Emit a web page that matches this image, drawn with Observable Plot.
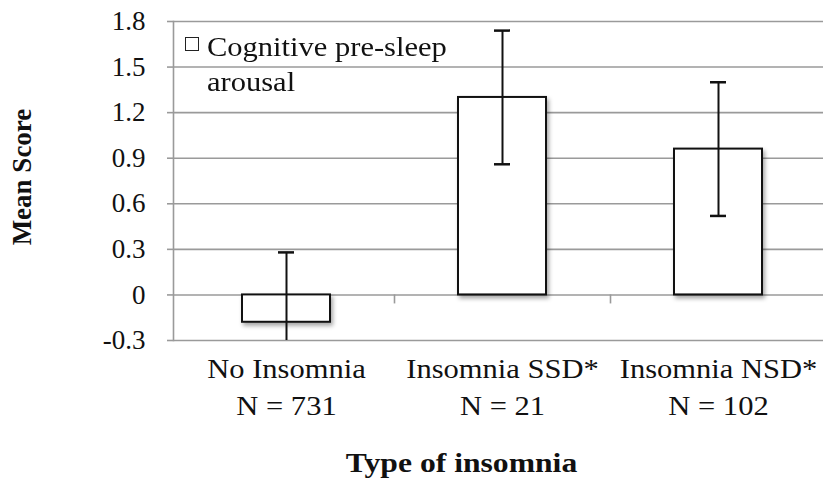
<!DOCTYPE html>
<html>
<head>
<meta charset="utf-8">
<script src="https://cdn.jsdelivr.net/npm/d3@7"></script>
<script src="https://cdn.jsdelivr.net/npm/@observablehq/plot@0.6"></script>
<style>
  html, body { margin: 0; padding: 0; background: #fff; }
  #wrap { position: relative; width: 823px; height: 480px; }
  #legend { position: absolute; left: 185px; top: 30px; font-size: 27px; line-height: 35px; color: #111; }
  #legend .sw { position: absolute; left: 0; top: 7px; width: 12px; height: 12px; border: 1.6px solid #222; background: #fff; }
  #legend .txt { position: absolute; left: 22px; top: 0; white-space: nowrap; transform: scaleX(1.13); transform-origin: 0 0; }
  g[aria-label="bar"] rect { filter: drop-shadow(2px 3px 2px rgba(0,0,0,0.35)); }
</style>
</head>
<body>
<div id="wrap"><div id="legend"><div class="sw"></div><div class="txt" id="legendText"></div></div></div>
<script>
const categories = ["No Insomnia", "Insomnia SSD*", "Insomnia NSD*"];
const sampleSizes = [731, 21, 102];
const means = [-0.18, 1.30, 0.96];
const errors = [0.46, 0.44, 0.44];
const yTicks = [-0.3, 0, 0.3, 0.6, 0.9, 1.2, 1.5, 1.8];
const yDomain = [-0.3, 1.8];
const seriesLines = ["Cognitive pre-sleep", "arousal"];
const xTitle = "Type of insomnia";
const yTitle = "Mean Score";

function hasFont(name) {
  const c = document.createElement("canvas").getContext("2d");
  const s = "Cognitive N = 731 Insomnia";
  const out = [];
  for (const fb of ["monospace", "sans-serif"]) {
    c.font = `27px ${fb}`; const w0 = c.measureText(s).width;
    c.font = `27px "${name}", ${fb}`; const w1 = c.measureText(s).width;
    out.push(Math.abs(w1 - w0) > 0.5);
  }
  return out[0] && out[1];
}
const serifCandidates = ["Liberation Serif", "Tinos", "Times New Roman", "Times", "Nimbus Roman", "DejaVu Serif", "Noto Serif"];
const serifFont = serifCandidates.find(hasFont) || "serif";
const serifStack = `"${serifFont}", "Liberation Serif", "Times New Roman", serif`;
document.getElementById("wrap").style.fontFamily = serifStack;

const data = categories.map((c, i) => ({
  cat: c,
  mean: means[i],
  lo: Math.max(yDomain[0], means[i] - errors[i]),
  hi: means[i] + errors[i],
  clipped: means[i] - errors[i] < yDomain[0]
}));
const caps = [];
data.forEach(d => {
  caps.push({cat: d.cat, v: d.hi});
  if (!d.clipped) caps.push({cat: d.cat, v: d.lo});
});

const chart = Plot.plot({
  width: 823,
  height: 480,
  marginLeft: 173,
  marginRight: 0,
  marginTop: 21,
  marginBottom: 140,
  style: {fontFamily: serifStack, fontSize: "27px", background: "white", color: "#111"},
  x: {domain: categories, range: [178, 826], padding: 0},
  y: {domain: yDomain},
  marks: [
    Plot.gridY(yTicks, {stroke: "#9a9a9a", strokeOpacity: 1, strokeWidth: 1.6}),
    Plot.frame({anchor: "left", stroke: "#9a9a9a", strokeWidth: 1.6}),
    Plot.axisY(yTicks, {
      tickSize: 6, tickPadding: 22, stroke: "#9a9a9a", strokeWidth: 1.6, fill: "#111",
      fontSize: 27, tickFormat: d => String(d), label: null, ariaLabel: "y-axis"
    }),
    Plot.ruleX(categories.slice(1), {x: d => d, y1: 0, y2: 0, insetBottom: -9, dx: -108, stroke: "#9a9a9a", strokeWidth: 1.6}),
    Plot.barY(data, {x: "cat", y: "mean", fill: "white", stroke: "#111", strokeWidth: 2, insetLeft: 64, insetRight: 64}),
    Plot.ruleX(data, {x: "cat", y1: "lo", y2: "hi", stroke: "#111", strokeWidth: 2}),
    Plot.tickY(caps, {x: "cat", y: "v", stroke: "#111", strokeWidth: 2.5, insetLeft: 100, insetRight: 100}),
    Plot.axisX({
      tickSize: 0, tickPadding: 11, fontSize: 27, lineHeight: 1.37, fill: "#111",
      tickFormat: d => d + "\nN = " + sampleSizes[categories.indexOf(d)], label: null
    }),
    Plot.text([xTitle], {frameAnchor: "bottom", textAnchor: "middle", dx: -37, dy: 131, fontSize: 28, fontWeight: "bold", fill: "#111"}),
    Plot.text([yTitle], {frameAnchor: "left", textAnchor: "middle", rotate: -90, dx: -151, dy: -4, fontSize: 27, fontWeight: "bold", fill: "#111"})
  ]
});
document.getElementById("wrap").prepend(chart);
document.getElementById("legendText").innerHTML = seriesLines.join("<br>");

// the reference's lettering is slightly wider than the face: widen horizontal texts (not y tick labels)
const stretch = 1.13;
chart.querySelectorAll("text").forEach(t => {
  const tr = t.getAttribute("transform") || "";
  if (tr.includes("rotate")) return;
  if (t.closest('g[aria-label="y-axis tick label"]')) return;
  const parts = t.querySelectorAll("tspan");
  const targets = parts.length ? Array.from(parts) : [t];
  targets.forEach(el => {
    const len = el.getComputedTextLength();
    if (len > 0) {
      el.setAttribute("textLength", (len * stretch).toFixed(1));
      el.setAttribute("lengthAdjust", "spacingAndGlyphs");
    }
  });
});
</script>
</body>
</html>
